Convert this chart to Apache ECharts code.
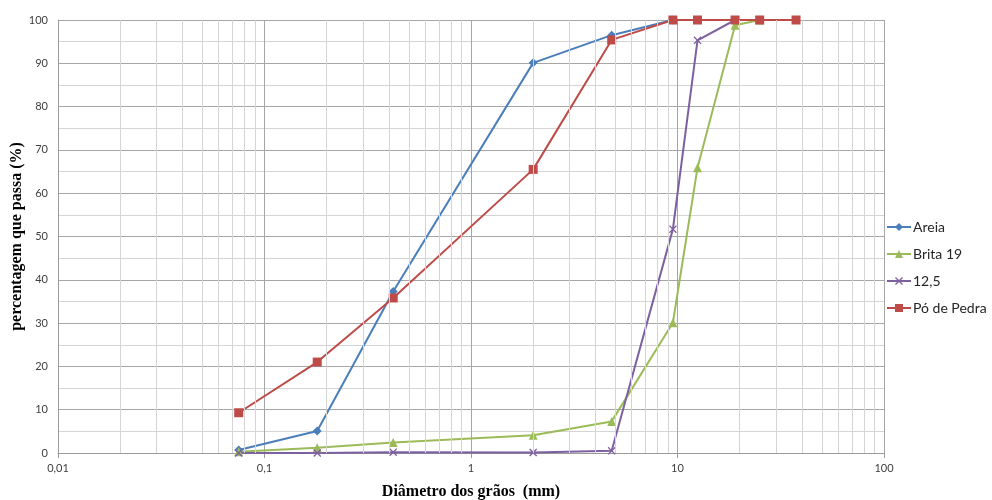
<!DOCTYPE html>
<html>
<head>
<meta charset="utf-8">
<script src="https://cdn.jsdelivr.net/npm/echarts@6/dist/echarts.min.js"></script>
<style>
  html, body { margin: 0; padding: 0; background: #fff; }
  #chart { width: 992px; height: 500px; }
</style>
</head>
<body>
<div id="chart"></div>
<script>
// abertura das peneiras (mm)
const sieves = [0.075, 0.18, 0.42, 2, 4.8, 9.5, 12.5, 19, 25, 37.5];

const areia = [0.7, 5.1, 37.3, 90.1, 96.5, 100];
const brita19 = [0.3, 1.2, 2.4, 4.1, 7.3, 30.1, 65.9, 98.8, 100];
const brita125 = [0, 0, 0.2, 0.1, 0.5, 51.7, 95.3, 100];
const poDePedra = [9.3, 21, 35.8, 65.5, 95.4, 100, 100, 100, 100, 100];

const seriesNames = ['Areia', 'Brita 19', '12,5', 'Pó de Pedra'];
const xTickLabels = ['0,01', '0,1', '1', '10', '100'];

// linhas secundárias do eixo log (2..9 em cada década)
const minorX = [];
[0.01, 0.1, 1, 10].forEach(d => {
    for (let k = 2; k <= 9; k++) minorX.push(+(d * k).toPrecision(3));
});

function pairs(vals) {
    return vals.map((v, i) => [sieves[i], v]);
}

const crossPath = 'path://M0,1.2L1.2,0L5,3.8L8.8,0L10,1.2L6.2,5L10,8.8L8.8,10L5,6.2L1.2,10L0,8.8L3.8,5Z';

const myChart = echarts.init(document.getElementById('chart'));

const option = {
    animation: false,
    grid: { left: 58, right: 108, top: 20, bottom: 47, containLabel: false, outerBoundsMode: 'none' },
    legend: {
        data: seriesNames,
        orient: 'vertical',
        left: 881,
        top: 215,
        itemWidth: 24,
        itemHeight: 10,
        itemGap: 13,
        textStyle: { fontFamily: 'Lato', fontSize: 14, color: '#262626', padding: [0, 0, 0, -3] }
    },
    xAxis: {
        type: 'log',
        logBase: 10,
        min: 0.01,
        max: 100,
        name: 'Diâmetro dos grãos  (mm)',
        nameLocation: 'middle',
        nameGap: 31,
        nameTextStyle: { fontFamily: 'Liberation Serif', fontWeight: 'bold', fontSize: 16, color: '#000' },
        axisLine: { lineStyle: { color: '#9a9a9a', width: 1 } },
        axisTick: { show: true, length: 5, lineStyle: { color: '#9a9a9a' } },
        axisLabel: {
            margin: 10,
            fontFamily: 'Lato',
            fontSize: 11,
            color: '#404040',
            formatter: function (v) {
                const i = Math.round(Math.log10(v)) + 2;
                return xTickLabels[i] !== undefined ? xTickLabels[i] : '';
            }
        },
        splitLine: { show: true, lineStyle: { color: '#a6a6a6', width: 1 } }
    },
    yAxis: {
        type: 'value',
        min: 0,
        max: 100,
        interval: 10,
        name: 'percentagem que passa (%)',
        nameLocation: 'middle',
        nameGap: 33,
        nameMoveOverlap: false,
        nameTextStyle: { fontFamily: 'Liberation Serif', fontWeight: 'bold', fontSize: 16, color: '#000' },
        axisLine: { show: true, lineStyle: { color: '#9a9a9a', width: 1 } },
        axisTick: { show: false },
        axisLabel: { margin: 10, fontFamily: 'Lato', fontSize: 11, color: '#404040' },
        splitLine: { show: true, lineStyle: { color: '#a6a6a6', width: 1 } },
        minorTick: { show: false, splitNumber: 2 },
        minorSplitLine: { show: true, lineStyle: { color: '#d4d4d4', width: 1 } }
    },
    series: [
        {
            name: 'minor',
            type: 'line',
            data: [],
            silent: true,
            z: 1,
            markLine: {
                silent: true,
                symbol: ['none', 'none'],
                label: { show: false },
                lineStyle: { color: '#d4d4d4', width: 1, type: 'solid' },
                data: minorX.map(v => ({ xAxis: v }))
            }
        },
        {
            name: 'Areia',
            type: 'line',
            data: pairs(areia),
            symbol: 'diamond',
            symbolSize: 9,
            z: 3,
            itemStyle: { color: '#4a7ebb' },
            lineStyle: { color: '#4a7ebb', width: 2 }
        },
        {
            name: 'Brita 19',
            type: 'line',
            data: pairs(brita19),
            symbol: 'triangle',
            symbolSize: 9,
            z: 3,
            itemStyle: { color: '#9bbb59' },
            lineStyle: { color: '#9bbb59', width: 2 }
        },
        {
            name: '12,5',
            type: 'line',
            data: pairs(brita125),
            symbol: crossPath,
            symbolSize: 8,
            z: 3,
            itemStyle: { color: '#7d60a0' },
            lineStyle: { color: '#7d60a0', width: 2 }
        },
        {
            name: 'Pó de Pedra',
            type: 'line',
            data: pairs(poDePedra),
            symbol: 'rect',
            symbolSize: 9,
            z: 4,
            itemStyle: { color: '#be4b48' },
            lineStyle: { color: '#be4b48', width: 2 }
        }
    ]
};

myChart.setOption(option);
</script>
</body>
</html>
